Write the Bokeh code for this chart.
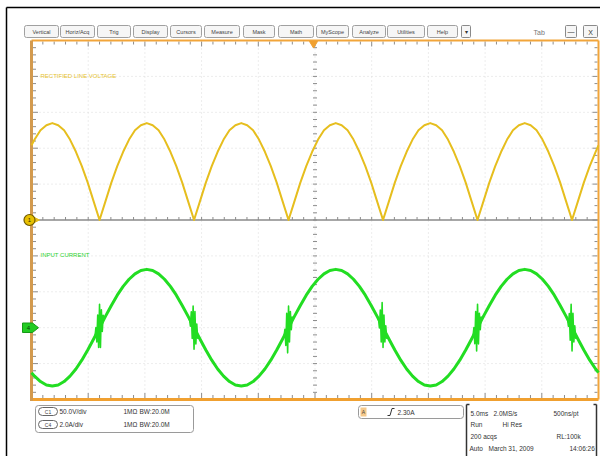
from bokeh.plotting import figure
from bokeh.models import Range1d
from bokeh.core.properties import value
from bokeh.embed import file_html
from bokeh.resources import INLINE

# ---------------- acquisition settings shown in the readout ----------------
VOLTS_PER_DIV = 50.0      # channel 1
AMPS_PER_DIV = 2.0        # channel 4
MS_PER_DIV = 5.0
C4_OFFSET_DIV = -3.0

# sample clock of the record (ms)
T_FIRST = 0.271
T_STEP = 0.5208
N_SAMPLES = 96
t_ms = [0.0] + [round(T_FIRST + i * T_STEP, 4) for i in range(N_SAMPLES)] + [50.0]

# channel 1: rectified line voltage (V)
c1_volts = [
    104,
    112, 125, 132, 135, 132, 125, 112, 95, 75, 52, 26,
    0, 26, 52, 75, 95, 112, 125, 132, 135, 132, 125, 112, 95, 75, 52, 26,
    0, 26, 52, 75, 95, 112, 125, 132, 135, 132, 125, 112, 95, 75, 52, 26,
    0, 26, 52, 75, 95, 112, 125, 132, 135, 132, 125, 112, 95, 75, 52, 26,
    0, 26, 52, 75, 95, 112, 125, 132, 135, 132, 125, 112, 95, 75, 52, 26,
    0, 26, 52, 75, 95, 112, 125, 132, 135, 132, 125, 112, 95, 75, 52, 26,
    0, 26, 52, 75, 95,
    104,
]

# channel 4: input current (A)
c4_amps = [
    -2.51,
    -2.70, -3.00, -3.19, -3.25, -3.19, -3.00, -2.70, -2.30, -1.81, -1.24, -0.63,
    0, 0.63, 1.24, 1.81, 2.30, 2.70, 3.00, 3.19, 3.25, 3.19, 3.00, 2.70, 2.30, 1.81, 1.24, 0.63,
    0, -0.63, -1.24, -1.81, -2.30, -2.70, -3.00, -3.19, -3.25, -3.19, -3.00, -2.70, -2.30, -1.81, -1.24, -0.63,
    0, 0.63, 1.24, 1.81, 2.30, 2.70, 3.00, 3.19, 3.25, 3.19, 3.00, 2.70, 2.30, 1.81, 1.24, 0.63,
    0, -0.63, -1.24, -1.81, -2.30, -2.70, -3.00, -3.19, -3.25, -3.19, -3.00, -2.70, -2.30, -1.81, -1.24, -0.63,
    0, 0.63, 1.24, 1.81, 2.30, 2.70, 3.00, 3.19, 3.25, 3.19, 3.00, 2.70, 2.30, 1.81, 1.24, 0.63,
    0, -0.63, -1.24, -1.81, -2.30,
    -2.50,
]

# ringing bursts on the current at each zero crossing
burst_centers_ms = [6.0, 14.333, 22.667, 31.0, 39.333, 47.667]
burst_offsets_ms = [-0.40, -0.32, -0.24, -0.16, -0.08, 0.0, 0.08, 0.16, 0.24, 0.32, 0.40]
burst_amps = [
    [-0.49, 0.01, -0.79, 0.70, -1.10, 1.30, -1.10, 1.00, -0.21, 0.69, 0.49],
    [0.49, 0.09, 0.89, -0.60, 1.20, -1.20, 0.90, -0.90, 0.21, -0.59, -0.49],
    [-0.49, -0.09, -0.99, 0.80, -1.40, 1.20, -0.80, 0.90, -0.11, 0.59, 0.49],
    [0.49, -0.01, 0.99, -0.80, 1.40, -1.10, 0.70, -0.80, 0.11, -0.59, -0.49],
    [-0.49, 0.01, -0.89, 0.90, -1.30, 1.30, -0.90, 0.80, -0.11, 0.59, 0.49],
    [0.49, 0.09, 0.79, -0.70, 1.30, -1.30, 0.80, -0.80, 0.11, -0.59, -0.49],
]

# menu bar and readout texts
menu_labels = ["Vertical", "Horiz/Acq", "Trig", "Display", "Cursors", "Measure",
               "Mask", "Math", "MyScope", "Analyze", "Utilities", "Help"]
c1_label = "RECTIFIED LINE VOLTAGE"
c4_label = "INPUT CURRENT"

# ---------------- screen layout (pixels) ----------------
W, H = 600, 456
GL, GR, GT, GB = 31.0, 598.0, 40.0, 399.0
DIV_X = (GR - GL) / 10.0
DIV_Y = (GB - GT) / 10.0
XC = (GL + GR) / 2.0
YC = (GT + GB) / 2.0
Y_C4_ZERO = YC - C4_OFFSET_DIV * DIV_Y

FONT = value("Liberation Sans")

p = figure(width=W, height=H, x_range=Range1d(0, W), y_range=Range1d(H, 0),
           x_axis_type=None, y_axis_type=None, output_backend="svg",
           toolbar_location=None, min_border=0)
p.outline_line_color = None
p.background_fill_color = "white"
p.border_fill_color = "white"

# data ranges tied to the graticule
p.extra_x_ranges = {
    "time": Range1d(-GL / DIV_X * MS_PER_DIV, (W - GL) / DIV_X * MS_PER_DIV),
}
p.extra_y_ranges = {
    "volts": Range1d(-(H - YC) / DIV_Y * VOLTS_PER_DIV, YC / DIV_Y * VOLTS_PER_DIV),
    "amps": Range1d(-(H - Y_C4_ZERO) / DIV_Y * AMPS_PER_DIV, Y_C4_ZERO / DIV_Y * AMPS_PER_DIV),
}

# window frame
p.segment(x0=[6, 6], y0=[7, 7], x1=[6, W], y1=[H, 7], line_color="black", line_width=1.5)

# menu bar
btn_edges = [(24, 58), (60, 94), (97, 130), (133, 167), (170, 201), (204, 239),
             (243, 274), (278, 313), (316, 348), (352, 385), (387, 424), (427, 457)]
p.quad(left=[a for a, b in btn_edges], right=[b for a, b in btn_edges],
       top=[25] * len(btn_edges), bottom=[37] * len(btn_edges),
       fill_color="#f6f6f6", line_color="#a0a0a0", line_width=1, border_radius=2)
p.text(x=[(a + b) / 2 for a, b in btn_edges], y=[31.5] * len(btn_edges), text=menu_labels,
       text_font=FONT, text_font_size="5.5px", text_color="#444444",
       text_align="center", text_baseline="middle")
p.quad(left=[461, 565, 583], right=[470, 576, 597], top=[25, 25, 25], bottom=[37, 37, 37],
       fill_color="#f6f6f6", line_color="#8a8a8a", line_width=1, border_radius=1)
p.text(x=[465.5, 570.5, 590, 533], y=[31.5, 31, 31.5, 31.5], text=["\u25be", "\u2014", "X", "Tab"],
       text_font=FONT, text_font_size=["6px", "7px", "7px", "7px"],
       text_color=["#333333", "#333333", "#333333", "#777777"],
       text_align=["center", "center", "center", "left"], text_baseline="middle")

# graticule: dotted division lines
for k in range(1, 10):
    x = GL + k * DIV_X
    p.line([x, x], [GT, GB], line_color="#dadada", line_dash="1 3", line_width=1)
for k in range(1, 10):
    if k == 5:
        continue
    y = GT + k * DIV_Y
    p.line([GL, GR], [y, y], line_color="#dadada", line_dash="1 3", line_width=1)

# pane divider through the centre
p.line([GL, GR], [YC, YC], line_color="#8a8a8a", line_width=1.5)

# minor ticks: edges and centre lines
tx0, ty0, tx1, ty1 = [], [], [], []
for j in range(1, 50):
    x = GL + j * DIV_X / 5
    ln = 5 if j % 5 == 0 else 3
    tx0 += [x, x, x]; tx1 += [x, x, x]
    ty0 += [GT + 1, GB - 1.5, YC - 3]; ty1 += [GT + 1 + ln, GB - 1.5 - ln, YC]
for j in range(1, 50):
    y = GT + j * DIV_Y / 5
    ln = 5 if j % 5 == 0 else 3
    ty0 += [y, y, y]; ty1 += [y, y, y]
    tx0 += [GL + 1.5, GR - 1, XC - 2]; tx1 += [GL + 1.5 + ln, GR - 1 - ln, XC + 2]
p.segment(x0=tx0, y0=ty0, x1=tx1, y1=ty1, line_color="#8c8c8c", line_width=1)

# orange graticule border
p.line([GL, GR], [GT, GT], line_color="#f2a53a", line_width=2)
p.line([GL, GR], [GB, GB], line_color="#f0a030", line_width=3)
p.line([GR, GR], [GT, GB], line_color="#f2a53a", line_width=2)
p.line([GL, GL], [GT, GB + 1.5], line_color="#d39a4e", line_width=3)

# trigger position marker
p.patch([309, 317, 313], [41, 41, 47.5], fill_color="#f0a030", line_color="#f0a030")

# waveforms
p.line(t_ms, c1_volts, x_range_name="time", y_range_name="volts",
       line_color="#e6be1e", line_width=2, line_join="round")
p.line(t_ms, c4_amps, x_range_name="time", y_range_name="amps",
       line_color="#22dd22", line_width=3, line_join="round")
p.multi_line(xs=[[c + o for o in burst_offsets_ms] for c in burst_centers_ms], ys=burst_amps,
             x_range_name="time", y_range_name="amps",
             line_color="#22dd22", line_width=1.6, line_join="round")

# waveform labels
p.text(x=[40], y=[75], text=[c1_label], text_font=FONT, text_font_size="6px",
       text_color="#e6c22e", text_baseline="middle")
p.text(x=[40], y=[254], text=[c4_label], text_font=FONT, text_font_size="6px",
       text_color="#2ed12e", text_baseline="middle")

# channel ground markers
p.patch([33, 33, 39], [216.5, 222.5, 219.5], fill_color="#e6be1e", line_color="#e6be1e")
p.scatter([29], [219.5], marker="circle", size=11, fill_color="#e8c000",
          line_color="#6f5a00", line_width=1.2)
p.text(x=[29], y=[219.8], text=["1"], text_font=FONT, text_font_size="6px",
       text_color="#333300", text_align="center", text_baseline="middle")
p.patch([22, 32, 38, 32, 22], [322.5, 322.5, 327.2, 332, 332],
        fill_color="#22cc22", line_color="#169a16", line_width=1)
p.text(x=[28], y=[327.5], text=["4"], text_font=FONT, text_font_size="6px",
       text_color="#0a3a0a", text_align="center", text_baseline="middle")

# readout: vertical settings
p.quad(left=[35], right=[193], top=[405], bottom=[432], fill_color="white",
       line_color="#9a9a9a", line_width=1, border_radius=3)
p.quad(left=[38, 38, 368], right=[57, 57, 385], top=[407, 420, 407], bottom=[415, 428, 416],
       fill_color="white", line_color="#666666", line_width=1, border_radius=4)
p.text(x=[47.5, 47.5, 376.5], y=[411, 424, 411.5], text=["C1", "C4", "C4"], text_font=FONT,
       text_font_size="5px", text_color="#444444", text_align="center", text_baseline="middle")
p.text(x=[59, 59, 123, 123, 139, 139], y=[411, 424, 411, 424, 411, 424],
       text=["50.0V/div", "2.0A/div", "1M\u03a9", "1M\u03a9", "BW:20.0M", "BW:20.0M"],
       text_font=FONT, text_font_size="6.5px", text_color="#333333", text_baseline="middle")

# readout: trigger
p.quad(left=[358], right=[463], top=[405], bottom=[418], fill_color="white",
       line_color="#9a9a9a", line_width=1, border_radius=3)
p.quad(left=[360], right=[366], top=[407], bottom=[416], fill_color="#f5c98a", line_color=None)
p.text(x=[363], y=[411.5], text=["A"], text_font=FONT, text_font_size="5px",
       text_color="#444444", text_align="center", text_baseline="middle")
p.line([387, 389.5, 391.5, 394], [415, 415, 408, 408], line_color="#333333", line_width=1)
p.text(x=[397], y=[411.5], text=["2.30A"], text_font=FONT, text_font_size="6.5px",
       text_color="#333333", text_baseline="middle")

# readout: timebase / acquisition
p.segment(x0=[466, 596, 466, 593], y0=[404, 404, 404, 404], x1=[466, 596, 469, 596],
          y1=[H, H, 404, 404], line_color="#333333", line_width=1.5)
p.text(x=[470, 493, 553, 470, 502, 470, 556, 469, 488, 569],
       y=[413, 413, 413, 424, 424, 436, 436, 448, 448, 448],
       text=["5.0ms", "2.0MS/s", "500ns/pt", "Run", "Hi Res", "200 acqs", "RL:100k",
             "Auto", "March 31, 2009", "14:06:26"],
       text_font=FONT, text_font_size="6.5px", text_color="#333333", text_baseline="middle")

open("out.html", "w").write(file_html(p, INLINE))
